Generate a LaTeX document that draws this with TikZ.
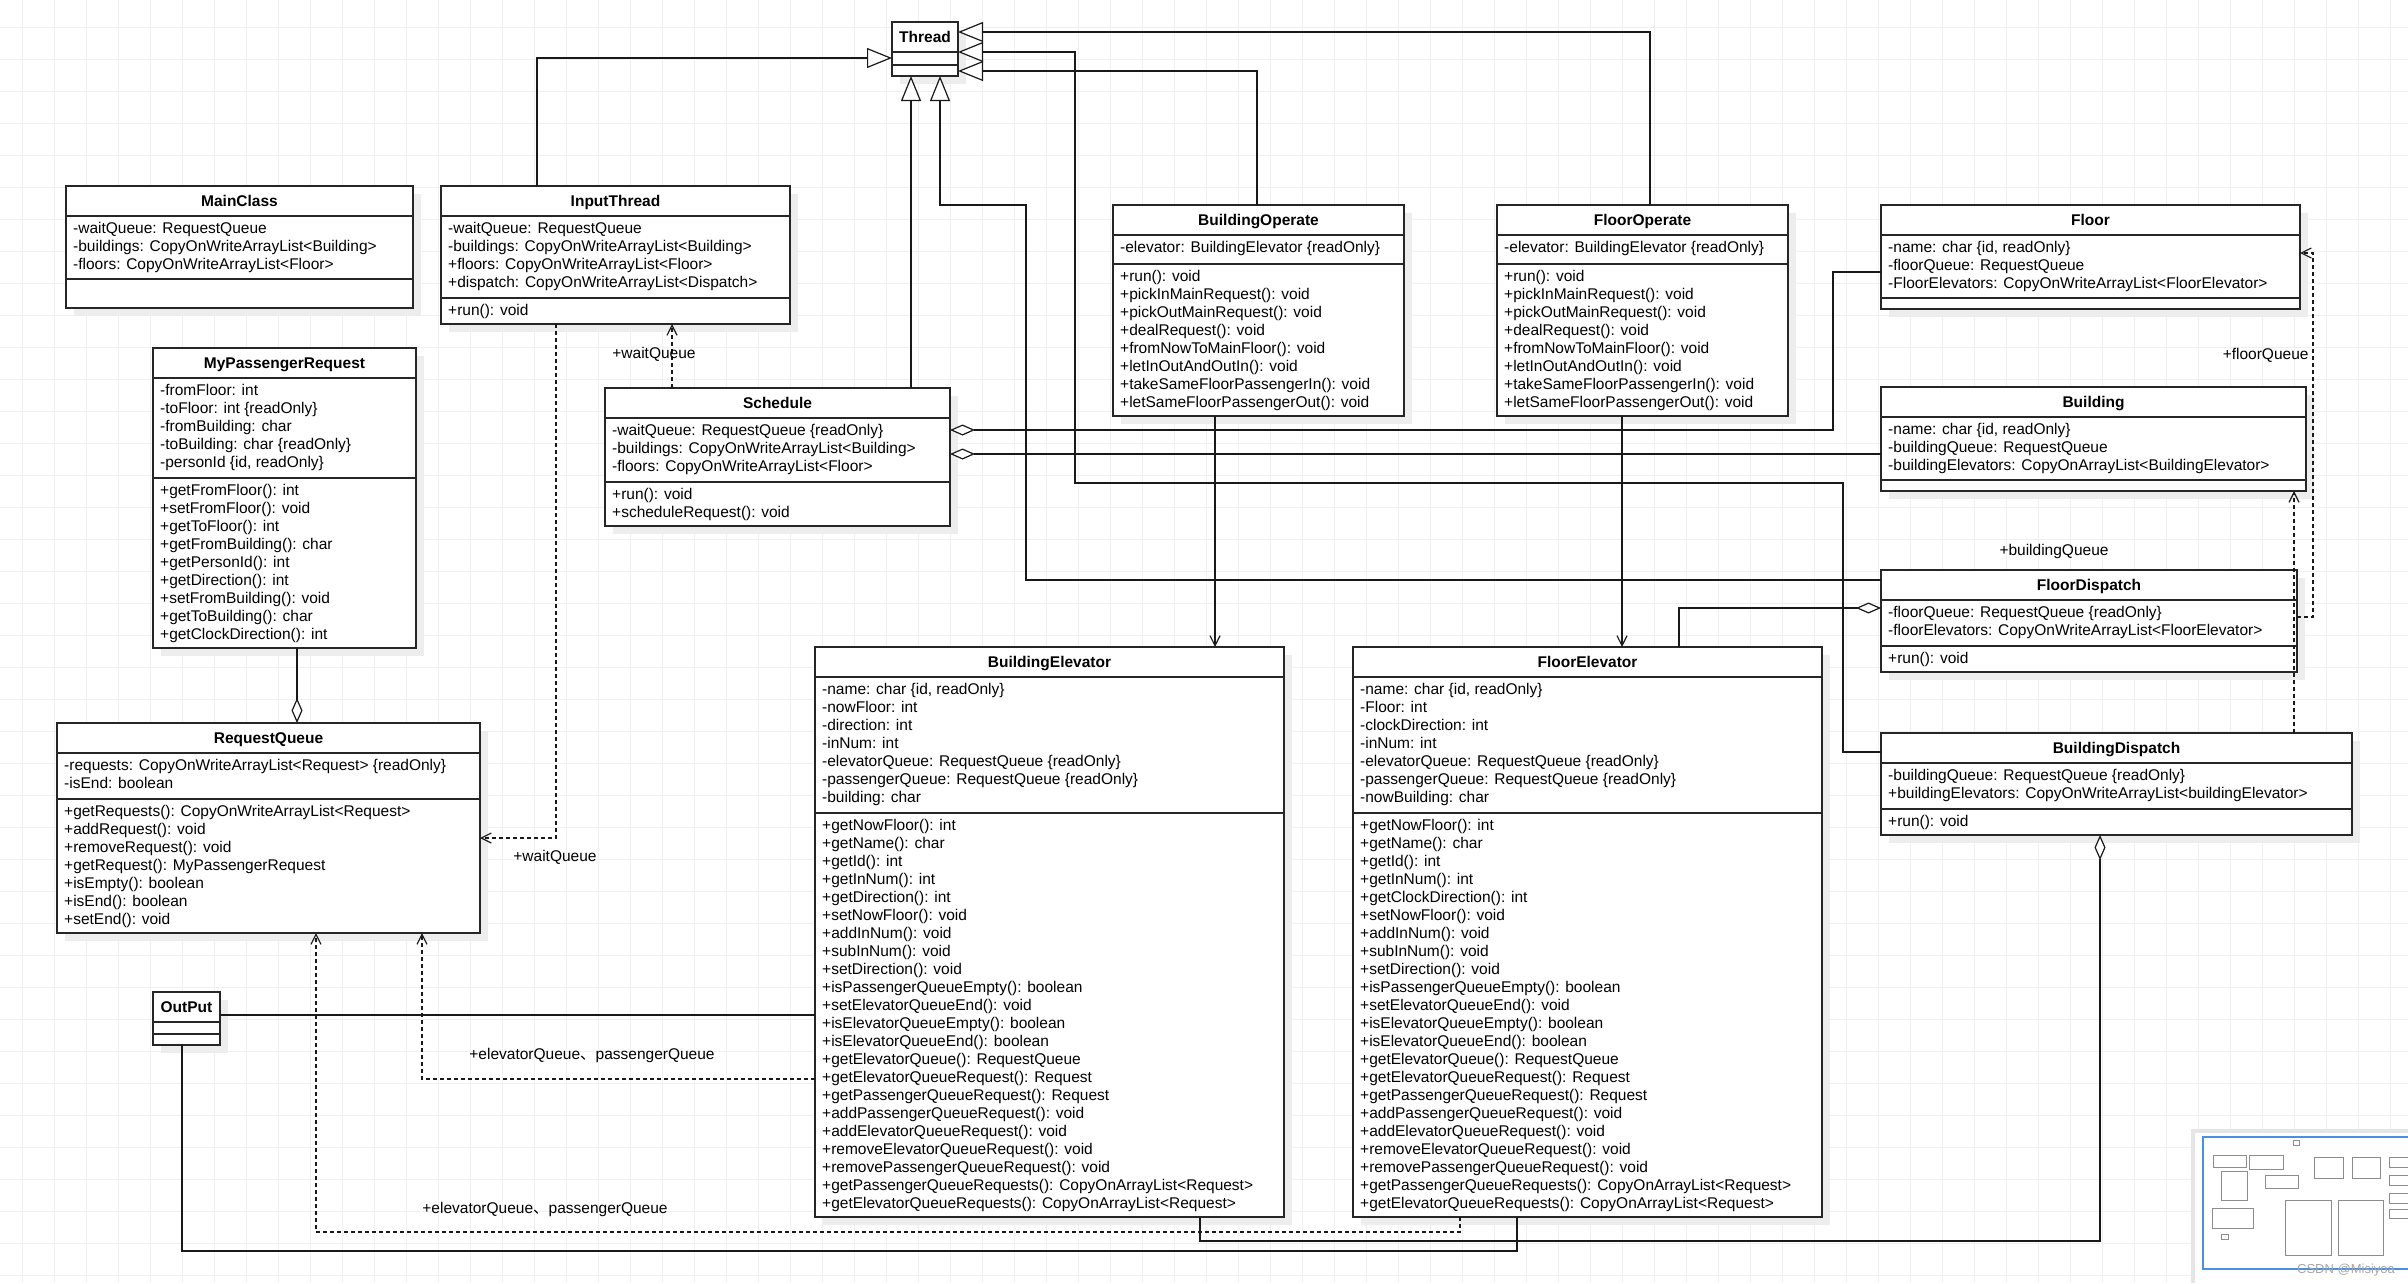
\documentclass[tikz,border=0pt]{standalone}
\usepackage{fontspec}
\setmainfont{Liberation Sans}
\newfontfamily\cjkfont{Noto Sans CJK SC}
\usetikzlibrary{arrows.meta,calc}
\definecolor{minimapblue}{RGB}{74,144,226}

% class box: name, x, y, width, attribute height, method height, title, attributes, methods
\newcommand{\umlclass}[9]{%
  \pgfmathsetmacro{\boxh}{30+#5+#6}%
  \fill[boxshadow] (#2+8,#3+8) rectangle ++(#4,\boxh);
  \node[classbox, minimum width=#4, minimum height=\boxh, anchor=north west] (#1) at (#2,#3) {};
  \draw[boxline] (#2,#3+30) -- ++(#4,0);
  \draw[boxline] (#2,#3+30+#5) -- ++(#4,0);
  \node[classtitle] (#1-title) at (#2+#4/2,#3+20.5) {#7};
  \node[members] (#1-attr) at (#2,#3+30) {#8};
  \node[members] (#1-ops) at (#2,#3+30+#5) {#9};
}

\begin{document}
\begin{tikzpicture}[x=1pt, y=-1pt,
  classbox/.style={draw=black!85, line width=1.5pt, fill=white, inner sep=0pt, outer sep=0pt},
  boxline/.style={draw=black!85, line width=1.5pt},
  boxshadow/.style={fill=black!7},
  classtitle/.style={anchor=base, font=\fontsize{15.5}{18}\selectfont\bfseries},
  members/.style={anchor=north west, align=left, inner xsep=7pt, inner ysep=6pt, font=\fontsize{15.5}{18}\selectfont},
  edgelabel/.style={anchor=base, font=\fontsize{15.5}{18}\selectfont},
  gridline/.style={draw=black!6, line width=0.8pt},
  conn/.style={draw=black!90, line width=1.2pt},
  inherit/.style={conn, -{Triangle[length=25pt, width=20pt, fill=white]}},
  aggr/.style={conn, -{Diamond[length=25pt, width=11pt, fill=white]}},
  assoc/.style={conn, -{Straight Barb[length=10pt, width=10pt]}},
  depend/.style={conn, dash pattern=on 4pt off 3pt, -{Straight Barb[length=10pt, width=10pt]}},
  minibox/.style={draw=black!45, line width=0.6pt, fill=white}]
% Fix the page to the size of the screenshot
\useasboundingbox (0,0) rectangle (2408,1283);
\fill[white] (0,0) rectangle (2408,1283);
% Background grid of the editor
\foreach \gx in {22,54,...,2408} \draw[gridline] (\gx,0) -- (\gx,1283);
\foreach \gy in {27,59,...,1283} \draw[gridline] (0,\gy) -- (2408,\gy);

% Thread at the top
\umlclass{Thread}{892}{22}{66}{13}{11}{Thread}{}{}
% Main class and input thread
\umlclass{MainClass}{66}{186}{347}{63}{29}{MainClass}{-waitQueue: RequestQueue\\-buildings: CopyOnWriteArrayList<Building>\\-floors: CopyOnWriteArrayList<Floor>}{}
\umlclass{InputThread}{441}{186}{349}{82}{26}{InputThread}{-waitQueue: RequestQueue\\-buildings: CopyOnWriteArrayList<Building>\\+floors: CopyOnWriteArrayList<Floor>\\+dispatch: CopyOnWriteArrayList<Dispatch>}{+run(): void}
% Operate threads
\umlclass{BuildingOperate}{1113}{205}{291}{29}{152}{BuildingOperate}{-elevator: BuildingElevator \{readOnly\}}{+run(): void\\+pickInMainRequest(): void\\+pickOutMainRequest(): void\\+dealRequest(): void\\+fromNowToMainFloor(): void\\+letInOutAndOutIn(): void\\+takeSameFloorPassengerIn(): void\\+letSameFloorPassengerOut(): void}
\umlclass{FloorOperate}{1497}{205}{291}{29}{152}{FloorOperate}{-elevator: BuildingElevator \{readOnly\}}{+run(): void\\+pickInMainRequest(): void\\+pickOutMainRequest(): void\\+dealRequest(): void\\+fromNowToMainFloor(): void\\+letInOutAndOutIn(): void\\+takeSameFloorPassengerIn(): void\\+letSameFloorPassengerOut(): void}
% Floor and building
\umlclass{Floor}{1881}{205}{419}{63}{11}{Floor}{-name: char \{id, readOnly\}\\-floorQueue: RequestQueue\\-FloorElevators: CopyOnWriteArrayList<FloorElevator>}{}
\umlclass{Building}{1881}{387}{425}{63}{11}{Building}{-name: char \{id, readOnly\}\\-buildingQueue: RequestQueue\\-buildingElevators: CopyOnArrayList<BuildingElevator>}{}
% Passenger request
\umlclass{MyPassengerRequest}{153}{348}{263}{100}{170}{MyPassengerRequest}{-fromFloor: int\\-toFloor: int \{readOnly\}\\-fromBuilding: char\\-toBuilding: char \{readOnly\}\\-personId \{id, readOnly\}}{+getFromFloor(): int\\+setFromFloor(): void\\+getToFloor(): int\\+getFromBuilding(): char\\+getPersonId(): int\\+getDirection(): int\\+setFromBuilding(): void\\+getToBuilding(): char\\+getClockDirection(): int}
% Schedule
\umlclass{Schedule}{605}{388}{345}{64}{44}{Schedule}{-waitQueue: RequestQueue \{readOnly\}\\-buildings: CopyOnWriteArrayList<Building>\\-floors: CopyOnWriteArrayList<Floor>}{+run(): void\\+scheduleRequest(): void}
% Dispatchers
\umlclass{FloorDispatch}{1881}{570}{416}{46}{26}{FloorDispatch}{-floorQueue: RequestQueue \{readOnly\}\\-floorElevators: CopyOnWriteArrayList<FloorElevator>}{+run(): void}
\umlclass{BuildingDispatch}{1881}{733}{471}{46}{26}{BuildingDispatch}{-buildingQueue: RequestQueue \{readOnly\}\\+buildingElevators: CopyOnWriteArrayList<buildingElevator>}{+run(): void}
% Request queue
\umlclass{RequestQueue}{57}{723}{423}{46}{134}{RequestQueue}{-requests: CopyOnWriteArrayList<Request> \{readOnly\}\\-isEnd: boolean}{+getRequests(): CopyOnWriteArrayList<Request>\\+addRequest(): void\\+removeRequest(): void\\+getRequest(): MyPassengerRequest\\+isEmpty(): boolean\\+isEnd(): boolean\\+setEnd(): void}
% Elevators
\umlclass{BuildingElevator}{815}{647}{469}{136}{404}{BuildingElevator}{-name: char \{id, readOnly\}\\-nowFloor: int\\-direction: int\\-inNum: int\\-elevatorQueue: RequestQueue \{readOnly\}\\-passengerQueue: RequestQueue \{readOnly\}\\-building: char}{+getNowFloor(): int\\+getName(): char\\+getId(): int\\+getInNum(): int\\+getDirection(): int\\+setNowFloor(): void\\+addInNum(): void\\+subInNum(): void\\+setDirection(): void\\+isPassengerQueueEmpty(): boolean\\+setElevatorQueueEnd(): void\\+isElevatorQueueEmpty(): boolean\\+isElevatorQueueEnd(): boolean\\+getElevatorQueue(): RequestQueue\\+getElevatorQueueRequest(): Request\\+getPassengerQueueRequest(): Request\\+addPassengerQueueRequest(): void\\+addElevatorQueueRequest(): void\\+removeElevatorQueueRequest(): void\\+removePassengerQueueRequest(): void\\+getPassengerQueueRequests(): CopyOnArrayList<Request>\\+getElevatorQueueRequests(): CopyOnArrayList<Request>}
\umlclass{FloorElevator}{1353}{647}{469}{136}{404}{FloorElevator}{-name: char \{id, readOnly\}\\-Floor: int\\-clockDirection: int\\-inNum: int\\-elevatorQueue: RequestQueue \{readOnly\}\\-passengerQueue: RequestQueue \{readOnly\}\\-nowBuilding: char}{+getNowFloor(): int\\+getName(): char\\+getId(): int\\+getInNum(): int\\+getClockDirection(): int\\+setNowFloor(): void\\+addInNum(): void\\+subInNum(): void\\+setDirection(): void\\+isPassengerQueueEmpty(): boolean\\+setElevatorQueueEnd(): void\\+isElevatorQueueEmpty(): boolean\\+isElevatorQueueEnd(): boolean\\+getElevatorQueue(): RequestQueue\\+getElevatorQueueRequest(): Request\\+getPassengerQueueRequest(): Request\\+addPassengerQueueRequest(): void\\+addElevatorQueueRequest(): void\\+removeElevatorQueueRequest(): void\\+removePassengerQueueRequest(): void\\+getPassengerQueueRequests(): CopyOnArrayList<Request>\\+getElevatorQueueRequests(): CopyOnArrayList<Request>}
% Output
\umlclass{OutPut}{153}{992}{67}{12}{11}{OutPut}{}{}

% Inheritance towards Thread
\draw[inherit] ($(InputThread.north west)+(96,0)$) |- ($(Thread.north west)+(0,36)$);
\draw[inherit] ($(Schedule.north west)+(306,0)$) -- ($(Thread.south west)+(19,0)$);
\draw[inherit] ($(FloorDispatch.north west)+(0,10)$) -| (1026,205) -| ($(Thread.south west)+(48,0)$);
\draw[inherit] ($(BuildingDispatch.north west)+(0,19)$) -| (1843,483) -| (1075,52) -- ($(Thread.north east)+(0,30)$);
\draw[inherit] ($(BuildingOperate.north west)+(144,0)$) |- ($(Thread.north east)+(0,49)$);
\draw[inherit] ($(FloorOperate.north west)+(153,0)$) |- ($(Thread.north east)+(0,10)$);

% Aggregations
\draw[aggr] ($(Floor.north west)+(0,67)$) -| (1833,430) -- ($(Schedule.north east)+(0,42)$);
\draw[aggr] ($(Building.north west)+(0,67)$) -- ($(Schedule.north east)+(0,66)$);
\draw[aggr] ($(MyPassengerRequest.south west)+(144,0)$) -- ($(RequestQueue.north west)+(240,0)$);
\draw[aggr] ($(FloorElevator.north west)+(326,0)$) |- ($(FloorDispatch.north west)+(0,38)$);
\draw[aggr] ($(BuildingElevator.south west)+(385,0)$) |- (2100,1241) -- ($(BuildingDispatch.south west)+(219,0)$);

% Associations
\draw[assoc] ($(BuildingOperate.south west)+(102,0)$) -- ($(BuildingElevator.north west)+(400,0)$);
\draw[assoc] ($(FloorOperate.south west)+(125,0)$) -- ($(FloorElevator.north west)+(269,0)$);
\draw[conn] ($(OutPut.north east)+(0,23)$) -- ($(BuildingElevator.north west)+(0,368)$);
\draw[conn] ($(OutPut.south west)+(29,0)$) |- (1517,1251) -- ($(FloorElevator.south west)+(164,0)$);

% Dependencies with their labels
\draw[depend] ($(InputThread.south west)+(115,0)$) |- ($(RequestQueue.north east)+(0,115)$);
\node[edgelabel] (lblWaitLow) at (555,861.5) {+waitQueue};
\draw[depend] ($(Schedule.north west)+(67,0)$) -- ($(InputThread.south west)+(231,0)$);
\node[edgelabel] (lblWaitUp) at (654,358) {+waitQueue};
\draw[depend] ($(BuildingElevator.north west)+(0,432)$) -| ($(RequestQueue.south west)+(365,0)$);
\node[edgelabel] (lblQueueA) at (592,1059.5) {+elevatorQueue{\cjkfont 、}passengerQueue};
\draw[depend] ($(FloorElevator.south west)+(107,0)$) |- (316,1232) -- ($(RequestQueue.south west)+(259,0)$);
\node[edgelabel] (lblQueueB) at (545,1213.5) {+elevatorQueue{\cjkfont 、}passengerQueue};
\draw[depend] ($(FloorDispatch.north east)+(0,47)$) -| (2313,253) -- ($(Floor.north east)+(0,48)$);
\node[edgelabel, anchor=base east] (lblFloorQ) at (2312,359.5) {+floorQueue};
\draw[depend] ($(BuildingDispatch.north west)+(413,0)$) -- ($(Building.south west)+(413,0)$);
\node[edgelabel] (lblBuildingQ) at (2054,555.5) {+buildingQueue};

% Minimap of the editor in the corner
\fill[black!10] (2191,1129) rectangle (2408,1283);
\fill[white] (2195,1133) rectangle (2408,1283);
% Tiny copies of the class boxes
\begin{scope}[shift={(2206.6,1137.7)}, scale=0.097]
\foreach \bx/\by/\bw/\bh in {892/22/66/54, 66/186/347/122, 441/186/349/138, 1113/205/291/211, 1497/205/291/211, 1881/205/419/104, 1881/387/425/104, 153/348/263/300, 605/388/345/138, 1881/570/416/102, 1881/733/471/102, 57/723/423/210, 815/647/469/570, 1353/647/469/570, 153/992/67/53}
  \draw[minibox] (\bx,\by) rectangle ++(\bw,\bh);
\end{scope}
\draw[minimapblue, line width=2.5pt] (2203,1137) rectangle (2414,1269);
\node[anchor=base, text=black!35, font=\fontsize{13}{15}\selectfont] (watermark) at (2346,1273) {CSDN @Misiyoa};
\end{tikzpicture}
\end{document}
